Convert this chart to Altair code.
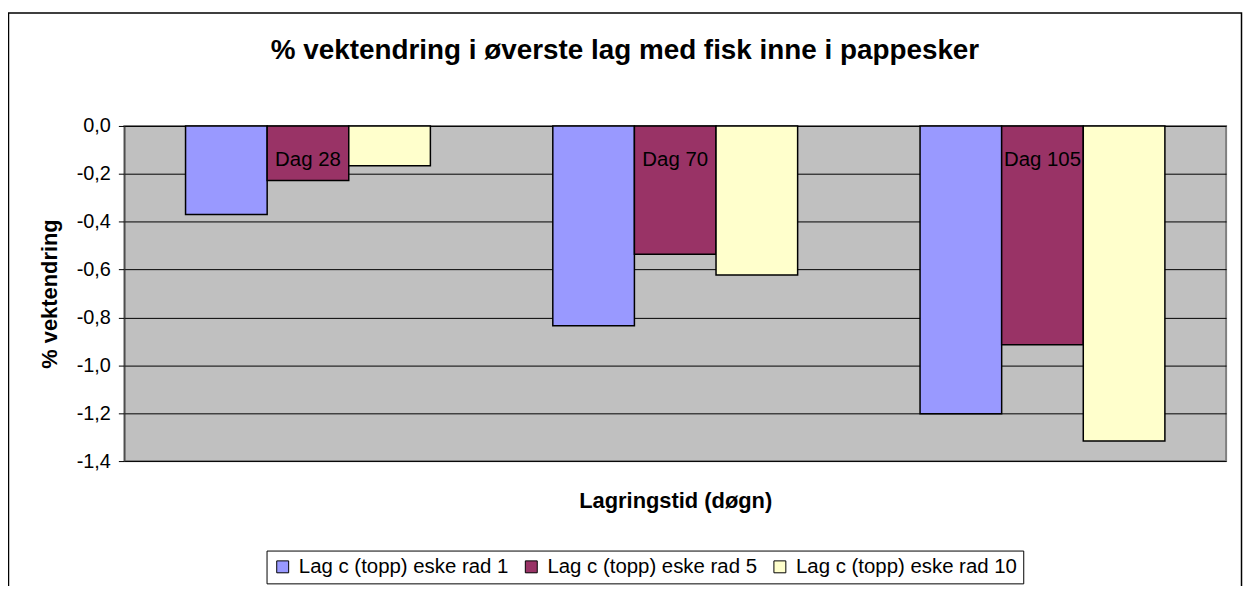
import altair as alt
import pandas as pd

# ---- data ----
categories = ["Dag 28", "Dag 70", "Dag 105"]
series = ["Lag c (topp) eske rad 1", "Lag c (topp) eske rad 5", "Lag c (topp) eske rad 10"]
rad1 = [-0.370, -0.835, -1.202]
rad5 = [-0.228, -0.536, -0.914]
rad10 = [-0.166, -0.623, -1.316]
colors = ["#9999FF", "#993366", "#FFFFCC"]
y_ticks = [0.0, -0.2, -0.4, -0.6, -0.8, -1.0, -1.2, -1.4]
chart_title = "% vektendring i øverste lag med fisk inne i pappesker"
y_title = "% vektendring"
x_title = "Lagringstid (døgn)"

rows = []
for i, c in enumerate(categories):
    for s, vals in zip(series, [rad1, rad5, rad10]):
        rows.append({"Lagringstid": c, "Serie": s, "Verdi": vals[i]})
df = pd.DataFrame(rows)
labels_df = pd.DataFrame({"Lagringstid": categories,
                          "Serie": [series[1]] * len(categories),
                          "Tekst": categories})

FONT = "Liberation Sans"

x_enc = alt.X(
    "Lagringstid:N",
    sort=categories,
    scale=alt.Scale(domain=categories, paddingInner=1 / 3, paddingOuter=1 / 6),
    axis=alt.Axis(title=x_title, labels=False, ticks=False, domain=False,
                  titleFontSize=22, titleFontWeight="bold", titleFont=FONT,
                  titleColor="black", titlePadding=30),
)
xoff_enc = alt.XOffset(
    "Serie:N", sort=series,
    scale=alt.Scale(domain=series, paddingInner=0, paddingOuter=0),
)
y_enc = alt.Y(
    "Verdi:Q",
    scale=alt.Scale(domain=[-1.4, 0], nice=False, zero=True),
    axis=alt.Axis(
        title=y_title, values=y_ticks,
        labelExpr="replace(replace(format(datum.value, '.1f'), '.', ','), '−', '-')",
        tickSize=6, tickColor="black", domainColor="#333333",
        labelPadding=8, labelFontSize=20, labelFont=FONT, labelColor="black",
        grid=True, gridColor="black", gridWidth=1,
        titleFontSize=22, titleFontWeight="bold", titleFont=FONT,
        titleColor="black", titlePadding=15,
    ),
)

bars = alt.Chart(df).mark_bar(stroke="black", strokeWidth=1.5).encode(
    x=x_enc,
    xOffset=xoff_enc,
    y=y_enc,
    color=alt.Color(
        "Serie:N", sort=series,
        scale=alt.Scale(domain=series, range=colors),
        legend=alt.Legend(
            title=None, orient="none", legendX=143, legendY=427,
            direction="horizontal", symbolType="square", symbolSize=144,
            symbolStrokeColor="black", symbolStrokeWidth=1,
            labelFontSize=20.5, labelFont=FONT, labelColor="black",
            labelOffset=6, columnPadding=12, labelLimit=500,
            strokeColor="black", fillColor="white", padding=6,
        ),
    ),
)

labels = alt.Chart(labels_df).mark_text(
    font=FONT, fontSize=20.5, color="black", baseline="alphabetic", dy=40
).encode(
    x=x_enc,
    xOffset=xoff_enc,
    y=alt.datum(0),
    text="Tekst:N",
)

title = alt.Chart(pd.DataFrame({"t": [chart_title]})).mark_text(
    font=FONT, fontSize=28, fontWeight="bold", color="black",
    baseline="alphabetic", align="center"
).encode(x=alt.value(503.5), y=alt.value(-67), text="t:N")

border = alt.Chart(pd.DataFrame({"b": [0]})).mark_rect(
    filled=False, stroke="black", strokeWidth=1.5
).encode(x=alt.value(-116.5), x2=alt.value(1123.5),
         y=alt.value(-113.5), y2=alt.value(480))

chart = alt.layer(border, title, bars, labels).properties(
    width=1108, height=337,
    autosize=alt.AutoSizeParams(type="none"),
    padding={"left": 117, "top": 117, "right": 17, "bottom": 124},
).configure_view(fill="#C0C0C0", stroke="#808080", strokeWidth=2)

chart.save("out.html", embed_options={"renderer": "svg", "actions": False})
